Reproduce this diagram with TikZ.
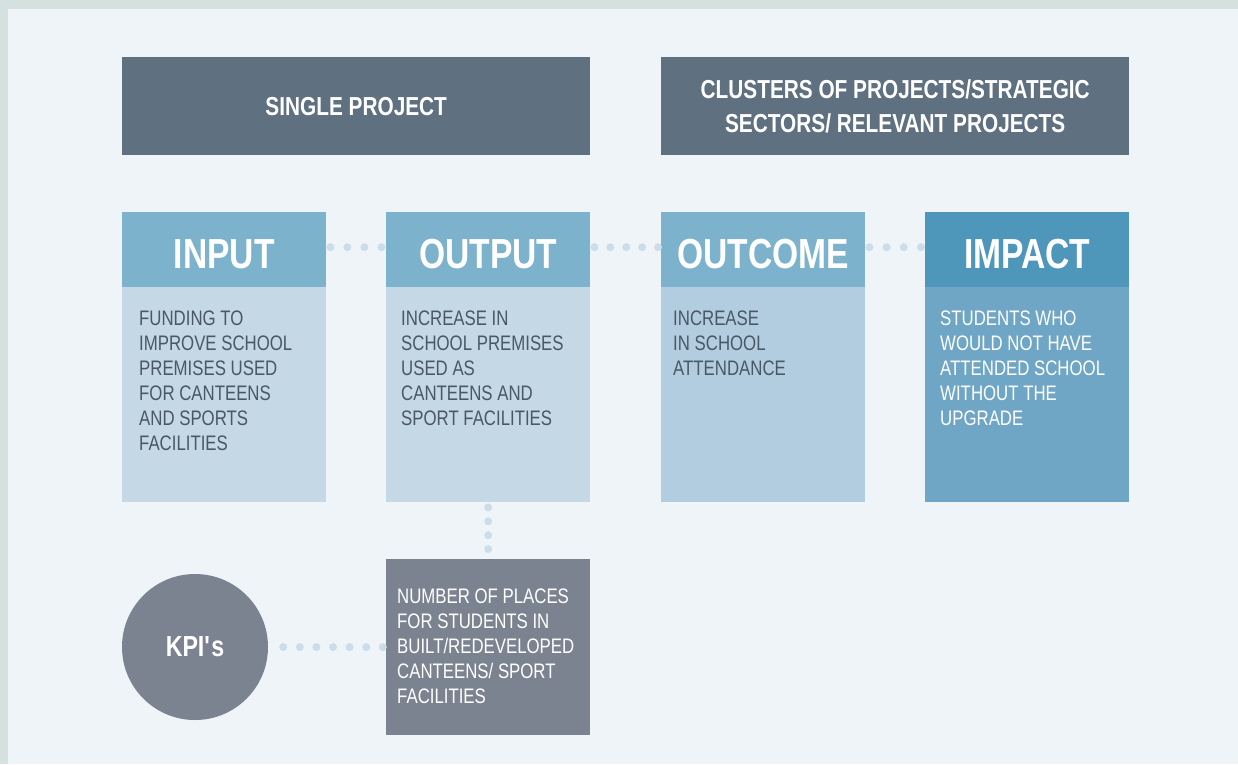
\documentclass[tikz,border=0pt]{standalone}
\usepackage{fontspec}
\setmainfont{Liberation Sans}[FakeStretch=0.8]
\usepackage{tikz}
\usepackage{xcolor}
\usetikzlibrary{positioning}

\definecolor{frame}{HTML}{D5E1DF}
\definecolor{paper}{HTML}{EFF4F8}
\definecolor{slate}{HTML}{5F7080}
\definecolor{steel}{HTML}{7B8391}
\definecolor{headblue}{HTML}{7DB2CD}
\definecolor{bodyblue}{HTML}{C4D8E5}
\definecolor{midblue}{HTML}{B2CDE0}
\definecolor{deepblue}{HTML}{4E96BA}
\definecolor{impblue}{HTML}{6FA5C5}
\definecolor{dotblue}{HTML}{CCDDE9}
\definecolor{ink}{HTML}{4A5866}

\tikzset{
  band/.style={rectangle, fill=slate, text=white, anchor=north west, inner sep=0pt,
    minimum width=468pt, minimum height=98pt, align=center,
    font=\bfseries\fontsize{26}{34}\selectfont},
  title/.style={rectangle, fill=headblue, text=white, anchor=north west, inner sep=0pt,
    minimum width=204pt, minimum height=75pt, text height=37pt, text depth=0pt,
    font=\bfseries\fontsize{42}{42}\selectfont},
  panel/.style={rectangle, fill=bodyblue, anchor=north west, inner sep=0pt,
    minimum width=204pt, minimum height=215pt},
  blurb/.style={anchor=north west, inner sep=0pt, align=left, text=ink,
    font=\fontsize{21}{25}\selectfont},
  dots/.style={draw=dotblue, line width=8pt, line cap=round, dash pattern=on 0pt off 17pt},
}

\begin{document}
\begin{tikzpicture}[x=1pt, y=-1pt]
    % frame
    \fill[frame] (0,0) rectangle (1238,764);
    \fill[paper] (8,9) rectangle (1238,764);
    \useasboundingbox (0,0) rectangle (1238,764);

    % top bands
    \node[band] (single) at (122,57) {SINGLE PROJECT};
    \node[band] (cluster) at (661,57) {CLUSTERS OF PROJECTS/STRATEGIC\\SECTORS/ RELEVANT PROJECTS};

    % the four stages
    \node[title] (inhead) at (122,212) {INPUT};
    \node[panel] (inbody) at (122,287) {};
    \node[title] (outhead) at (386,212) {OUTPUT};
    \node[panel] (outbody) at (386,287) {};
    \node[title] (ochead) at (661,212) {OUTCOME};
    \node[panel, fill=midblue] (ocbody) at (661,287) {};
    \node[title, fill=deepblue] (imphead) at (925,212) {IMPACT};
    \node[panel, fill=impblue] (impbody) at (925,287) {};

    \node[blurb] (intext) at ([shift={(17,24)}]inbody.north west)
        {FUNDING TO\\IMPROVE SCHOOL\\PREMISES USED\\FOR CANTEENS\\AND SPORTS\\FACILITIES};
    \node[blurb] (outtext) at ([shift={(15,24)}]outbody.north west)
        {INCREASE IN\\SCHOOL PREMISES\\USED AS\\CANTEENS AND\\SPORT FACILITIES};
    \node[blurb] (octext) at ([shift={(12,24)}]ocbody.north west)
        {INCREASE\\IN SCHOOL\\ATTENDANCE};
    \node[blurb, text=white] (imptext) at ([shift={(15,24)}]impbody.north west)
        {STUDENTS WHO\\WOULD NOT HAVE\\ATTENDED SCHOOL\\WITHOUT THE\\UPGRADE};

    % kpi
    \node[circle, fill=steel, text=white, minimum size=146pt, inner sep=0pt,
        font=\bfseries\fontsize{29}{29}\selectfont] (kpi) at (195,647) {KPI\textquotesingle s};
    \node[rectangle, fill=steel, anchor=north west, inner sep=0pt,
        minimum width=204pt, minimum height=176pt] (kpibox) at (386,559) {};
    \node[blurb, text=white] (kpitext) at ([shift={(11,30)}]kpibox.north west)
        {NUMBER OF PLACES\\FOR STUDENTS IN\\BUILT/REDEVELOPED\\CANTEENS/ SPORT\\FACILITIES};

    % dotted links
    \draw[dots, shorten <=4pt, shorten >=4pt] ([yshift=2.5pt]inhead.east) -- ([yshift=2.5pt]outhead.west);
    \draw[dots, dash pattern=on 0pt off 15.9pt, shorten <=4pt, shorten >=3pt] ([yshift=2.5pt]outhead.east) -- ([yshift=2.5pt]ochead.west);
    \draw[dots, dash pattern=on 0pt off 17.2pt, shorten <=4pt, shorten >=4pt] ([yshift=2.5pt]ochead.east) -- ([yshift=2.5pt]imphead.west);
    \draw[dots, dash pattern=on 0pt off 13.9pt, shorten <=5pt, shorten >=9pt] (outbody) -- (kpibox);
    \draw[dots, dash pattern=on 0pt off 16.6pt, shorten <=15pt, shorten >=3pt] (kpi) -- (kpibox);
\end{tikzpicture}
\end{document}
